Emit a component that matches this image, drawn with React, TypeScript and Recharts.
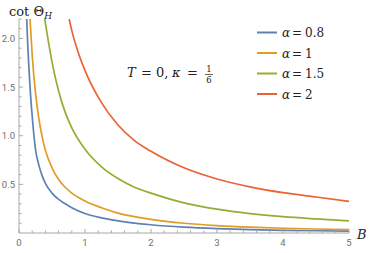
import React from 'react';
import { Line, LineChart, XAxis, YAxis } from 'recharts';

// alpha values shown in the legend, with the Mathematica default palette
const alphas = ['0.8', '1', '1.5', '2'];
const colors = ['#5E81B5', '#E19C24', '#8FB032', '#EB6235'];

// values, B on x, cot theta_H on y
const bBlue = [0.117, 0.13, 0.15, 0.175, 0.2, 0.25, 0.3, 0.35, 0.4, 0.5, 0.6, 0.7, 0.8, 1, 1.25, 1.5, 2, 2.5, 3, 3.5, 4, 4.5, 5];
const cotBlue = [2.2, 1.97, 1.7, 1.42, 1.2, 0.86, 0.7, 0.59, 0.51, 0.41, 0.345, 0.3, 0.26, 0.2, 0.155, 0.125, 0.085, 0.06, 0.045, 0.035, 0.028, 0.023, 0.02];

const bOrange = [0.167, 0.2, 0.25, 0.3, 0.35, 0.4, 0.5, 0.6, 0.7, 0.8, 1, 1.25, 1.5, 2, 2.5, 3, 3.5, 4, 4.5, 5];
const cotOrange = [2.2, 1.83, 1.44, 1.18, 0.99, 0.85, 0.67, 0.55, 0.47, 0.41, 0.33, 0.26, 0.205, 0.14, 0.1, 0.076, 0.06, 0.049, 0.041, 0.035];

const bGreen = [0.39, 0.45, 0.5, 0.6, 0.7, 0.8, 1, 1.25, 1.5, 1.75, 2, 2.5, 3, 3.5, 4, 4.5, 5];
const cotGreen = [2.2, 1.95, 1.76, 1.46, 1.24, 1.08, 0.86, 0.68, 0.56, 0.47, 0.41, 0.31, 0.245, 0.2, 0.168, 0.145, 0.125];

const bRed = [0.76, 0.8, 0.9, 1, 1.25, 1.5, 1.75, 2, 2.5, 3, 3.5, 4, 4.5, 5];
const cotRed = [2.2, 2.08, 1.85, 1.67, 1.34, 1.11, 0.95, 0.84, 0.67, 0.555, 0.475, 0.415, 0.37, 0.325];

const xLabels = [0, 1, 2, 3, 4, 5];
const yLabels = [0.5, 1.0, 1.5, 2.0];

const toRows = (bs: number[], ys: number[]) => bs.map((b, i) => ({ b, cot: ys[i] }));
const series = [
  toRows(bBlue, cotBlue),
  toRows(bOrange, cotOrange),
  toRows(bGreen, cotGreen),
  toRows(bRed, cotRed),
];

// minor ticks every 0.2 on x and 0.1 on y
const xTicks: number[] = [];
for (let i = 0; i <= 25; i++) xTicks.push(Math.round(i * 20) / 100);
const yTicks: number[] = [];
for (let i = 1; i <= 22; i++) yTicks.push(Math.round(i * 10) / 100);

const axisGray = '#a8a8a8';
const labelGray = '#707070';
const sans = "Roboto, 'DejaVu Sans', sans-serif";
const serif = "'DejaVu Serif', serif";

const isMajor = (v: number, list: number[]) => list.some((m) => Math.abs(m - v) < 1e-6);

const XTick = (props: any) => {
  const { x, y, payload } = props;
  const major = isMajor(payload.value, xLabels);
  return (
    <g>
      <line x1={x} x2={x} y1={y} y2={y - (major ? 4 : 2.5)} stroke={axisGray} />
      {major && (
        <text x={x} y={y + 13} textAnchor="middle" fill={labelGray} style={{ fontFamily: sans, fontSize: 9.5 }}>
          {payload.value}
        </text>
      )}
    </g>
  );
};

const YTick = (props: any) => {
  const { x, y, payload } = props;
  const major = isMajor(payload.value, yLabels);
  return (
    <g>
      <line x1={x} x2={x + (major ? 4 : 2.5)} y1={y} y2={y} stroke={axisGray} />
      {major && (
        <text x={x - 4} y={y + 3.5} textAnchor="end" fill={labelGray} style={{ fontFamily: sans, fontSize: 9.5 }}>
          {payload.value.toFixed(1)}
        </text>
      )}
    </g>
  );
};

const txt = { fontFamily: serif, fontSize: 13, fill: '#222' };
const ital = { ...txt, fontStyle: 'italic' as const };

export default function App() {
  return (
    <div style={{ position: 'absolute', left: 0, top: 0, width: 373, height: 253, background: '#fff' }}>
      <LineChart width={373} height={253} margin={{ top: 19, right: 24, bottom: 0, left: 0 }}>
        <XAxis
          dataKey="b"
          type="number"
          domain={[0, 5]}
          ticks={xTicks}
          interval={0}
          height={20}
          tickSize={0}
          tickMargin={0}
          tick={<XTick />}
          axisLine={{ stroke: axisGray }}
          allowDataOverflow
        />
        <YAxis
          type="number"
          domain={[0, 2.2]}
          ticks={yTicks}
          interval={0}
          width={19}
          tickSize={0}
          tickMargin={0}
          tick={<YTick />}
          axisLine={{ stroke: axisGray }}
          allowDataOverflow
        />
        {series.map((rows, i) => (
          <Line
            key={alphas[i]}
            data={rows}
            dataKey="cot"
            name={alphas[i]}
            type="monotone"
            stroke={colors[i]}
            strokeWidth={1.7}
            dot={false}
            isAnimationActive={false}
          />
        ))}
      </LineChart>
      <svg width={373} height={253} style={{ position: 'absolute', left: 0, top: 0, pointerEvents: 'none' }}>
        <text x={9} y={16} style={txt}>
          cot Θ<tspan fontStyle="italic" fontSize={9} dy={3}>H</tspan>
        </text>
        <text x={357} y={239} style={ital}>B</text>
        <text x={127} y={77} style={ital}>T</text>
        <text x={141} y={77} style={txt}>=</text>
        <text x={156} y={77} style={txt}>0,</text>
        <text x={172} y={77} style={ital}>κ</text>
        <text x={187} y={77} style={txt}>=</text>
        <text x={209} y={72} textAnchor="middle" style={{ ...txt, fontSize: 8.5 }}>1</text>
        <line x1={205} x2={213} y1={74.5} y2={74.5} stroke="#222" strokeWidth={0.7} />
        <text x={209} y={83} textAnchor="middle" style={{ ...txt, fontSize: 8.5 }}>6</text>
        {alphas.map((a, i) => (
          <g key={a}>
            <line x1={257} x2={277} y1={32.5 + i * 20.5} y2={32.5 + i * 20.5} stroke={colors[i]} strokeWidth={2} />
            <text x={282} y={37 + i * 20.5} style={{ ...ital, fontSize: 12 }}>α</text>
            <text x={292} y={37 + i * 20.5} style={{ ...txt, fontSize: 12 }}>=</text>
            <text x={305} y={37 + i * 20.5} style={{ ...txt, fontSize: 12 }}>{a}</text>
          </g>
        ))}
      </svg>
    </div>
  );
}
